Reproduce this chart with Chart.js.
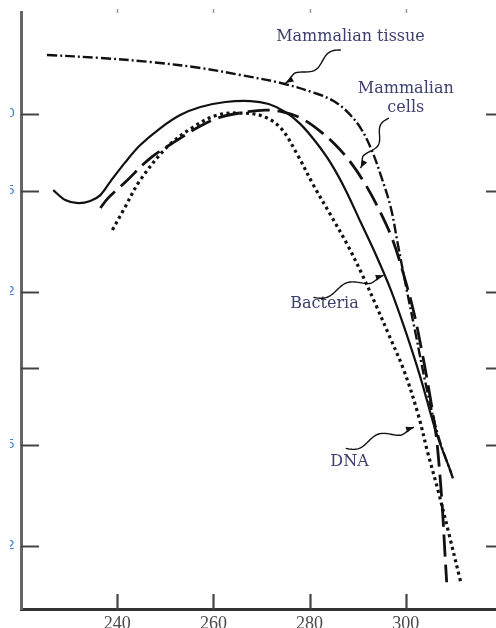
<!DOCTYPE html>
<html>
<head>
<meta charset="utf-8">
<script src="https://cdn.jsdelivr.net/npm/chart.js@4.4.0/dist/chart.umd.min.js"></script>
<style>
  html, body { margin: 0; padding: 0; background: #fff; }
  #wrap { position: relative; width: 496px; height: 628px; overflow: hidden; background: #fff; }
  #plot { position: absolute; left: -30px; top: -10px; }
  /* the scan is cut just left of the tick labels */
  #cut { position: absolute; left: 0; top: 0; width: 10px; height: 628px; background: #fff; }
</style>
</head>
<body>
<div id="wrap">
  <canvas id="plot" width="560" height="650"></canvas>
  <div id="cut"></div>
</div>
<script>
// Wavelength (nm) and relative value
const tissueX = [225.4, 236.5, 246.9, 257.3, 265.6, 274.0, 281.7, 285.0, 287.9, 290.6, 292.9, 295.0, 296.9, 298.3, 300.0, 302.1, 304.2, 306.7, 309.8]
const tissueY = [1.708, 1.662, 1.602, 1.518, 1.424, 1.325, 1.199, 1.125, 1.018, 0.881, 0.722, 0.560, 0.427, 0.311, 0.212, 0.135, 0.0857, 0.0545, 0.0369]

const cellsX = [236.5, 238.1, 241.7, 246.9, 252.5, 257.3, 261.5, 266.7, 270.8, 274.6, 278.1, 281.9, 285.4, 288.5, 291.7, 294.8, 297.3, 299.6, 301.7, 303.5, 305.0, 306.3, 307.1, 307.7, 308.1, 308.5]
const cellsY = [0.427, 0.467, 0.540, 0.671, 0.790, 0.897, 0.973, 1.018, 1.037, 1.018, 0.965, 0.865, 0.755, 0.647, 0.525, 0.408, 0.319, 0.232, 0.165, 0.1125, 0.0783, 0.0545, 0.0379, 0.0264, 0.0192, 0.0144]

const bacteriaX = [226.7, 229.2, 231.9, 234.4, 236.5, 238.5, 241.7, 244.8, 249.0, 253.1, 257.3, 262.5, 267.7, 271.5, 275.0, 278.1, 281.3, 284.4, 287.5, 290.6, 293.8, 296.9, 300.0, 303.1, 306.3, 309.4]
const bacteriaY = [0.502, 0.459, 0.446, 0.455, 0.480, 0.540, 0.647, 0.755, 0.881, 0.991, 1.066, 1.115, 1.125, 1.095, 1.018, 0.913, 0.776, 0.641, 0.502, 0.376, 0.279, 0.203, 0.139, 0.0913, 0.056, 0.039]

const dnaX = [239.0, 241.3, 244.8, 250.4, 255.8, 260.8, 265.6, 270.2, 274.0, 277.5, 280.8, 284.4, 287.9, 291.0, 293.8, 296.5, 299.6, 302.5, 304.6, 306.7, 308.8, 311.5]
const dnaY = [0.350, 0.419, 0.550, 0.742, 0.889, 0.991, 1.009, 0.982, 0.881, 0.690, 0.525, 0.400, 0.305, 0.232, 0.177, 0.135, 0.0982, 0.0665, 0.0463, 0.0331, 0.0230, 0.0142]

const xTicks = [240, 260, 280, 300]
const yTicks = [1.0, 0.5, 0.2, 0.1, 0.05, 0.02]
const yTickLabels = ["1.0", "0.5", "0.2", "", "0.05", "0.02"]

// labels and their pointer arrows, in data units
const noteText = ["Mammalian tissue", "Mammalian", "cells", "Bacteria", "DNA"]
const noteX = [288.5, 300.0, 300.0, 283.1, 288.3]
const noteY = [2.01, 1.254, 1.056, 0.1795, 0.0428]

const arrowTailX = [286.5, 296.5, 280.8, 287.5]
const arrowTailY = [1.786, 0.964, 0.190, 0.0484]
const arrowHeadX = [275.0, 290.6, 295.4, 301.7]
const arrowHeadY = [1.325, 0.613, 0.232, 0.0586]

const toPoints = (xs, ys) => xs.map((x, i) => ({ x: x, y: ys[i] }))

// inward tick marks on all four sides
const tickMarks = {
  id: "tickMarks",
  afterDraw(chart) {
    const { ctx, chartArea, scales } = chart
    ctx.save()
    ctx.strokeStyle = "#444"
    ctx.lineWidth = 2.2
    yTicks.forEach((v) => {
      const py = Math.round(scales.y.getPixelForValue(v)) + 0.5
      ctx.beginPath()
      ctx.moveTo(chartArea.left, py)
      ctx.lineTo(chartArea.left + 18, py)
      ctx.moveTo(chartArea.right - 16, py)
      ctx.lineTo(chartArea.right, py)
      ctx.stroke()
    })
    xTicks.forEach((v) => {
      const px = Math.round(scales.x.getPixelForValue(v)) + 0.5
      ctx.beginPath()
      ctx.moveTo(px, chartArea.bottom)
      ctx.lineTo(px, chartArea.bottom - 15)
      ctx.stroke()
    })
    ctx.strokeStyle = "#999"
    ctx.lineWidth = 1.5
    xTicks.forEach((v) => {
      const px = Math.round(scales.x.getPixelForValue(v)) + 0.5
      ctx.beginPath()
      ctx.moveTo(px, chartArea.top - 3)
      ctx.lineTo(px, chartArea.top + 1)
      ctx.stroke()
    })
    ctx.restore()
  },
}

// curve names with hand drawn wavy pointers
const notes = {
  id: "notes",
  afterDatasetsDraw(chart) {
    const { ctx, scales } = chart
    ctx.save()
    ctx.fillStyle = "#3c3f6e"
    ctx.font = '16px "DejaVu Serif"'
    ctx.textAlign = "center"
    ctx.textBaseline = "middle"
    noteText.forEach((t, i) => {
      ctx.fillText(t, scales.x.getPixelForValue(noteX[i]), scales.y.getPixelForValue(noteY[i]))
    })

    ctx.strokeStyle = "#111"
    ctx.fillStyle = "#111"
    ctx.lineWidth = 1.4
    arrowTailX.forEach((_, i) => {
      const tx = scales.x.getPixelForValue(arrowTailX[i])
      const ty = scales.y.getPixelForValue(arrowTailY[i])
      const hx = scales.x.getPixelForValue(arrowHeadX[i])
      const hy = scales.y.getPixelForValue(arrowHeadY[i])
      const dx = hx - tx
      const dy = hy - ty
      const len = Math.hypot(dx, dy)
      const ux = dx / len
      const uy = dy / len
      ctx.beginPath()
      for (let k = 0; k <= 50; k++) {
        const t = k / 50
        const env = t < 0.8 ? 1 : (1 - t) / 0.2
        const off = 4 * Math.sin(t * Math.PI * 3) * env
        const px = tx + dx * t - uy * off
        const py = ty + dy * t + ux * off
        if (k === 0) ctx.moveTo(px, py)
        else ctx.lineTo(px, py)
      }
      ctx.stroke()
      ctx.beginPath()
      ctx.moveTo(hx, hy)
      ctx.lineTo(hx - ux * 8 - uy * 3, hy - uy * 8 + ux * 3)
      ctx.lineTo(hx - ux * 8 + uy * 3, hy - uy * 8 - ux * 3)
      ctx.closePath()
      ctx.fill()
    })
    ctx.restore()
  },
}

const ink = "#111"
const ctx = document.getElementById("plot").getContext("2d")
const Chart = window.Chart
new Chart(ctx, {
  type: "scatter",
  data: {
    datasets: [
      {
        label: "Mammalian tissue",
        data: toPoints(tissueX, tissueY),
        borderColor: ink,
        backgroundColor: ink,
        borderDash: [10, 3, 2, 3],
        borderWidth: 2.4,
      },
      {
        label: "Mammalian cells",
        data: toPoints(cellsX, cellsY),
        borderColor: ink,
        backgroundColor: ink,
        borderDash: [22, 8],
        borderWidth: 2.8,
      },
      {
        label: "Bacteria",
        data: toPoints(bacteriaX, bacteriaY),
        borderColor: ink,
        backgroundColor: ink,
        borderWidth: 2.2,
      },
      {
        label: "DNA",
        data: toPoints(dnaX, dnaY),
        borderColor: ink,
        backgroundColor: ink,
        borderDash: [3, 3.5],
        borderWidth: 3.2,
      },
    ],
  },
  options: {
    responsive: false,
    animation: false,
    layout: { padding: { left: 0, right: 28, top: 22, bottom: 0 } },
    datasets: {
      scatter: {
        showLine: true,
        fill: false,
        pointRadius: 0,
        tension: 0.35,
      },
    },
    plugins: {
      legend: { display: false },
      tooltip: { enabled: false },
    },
    scales: {
      x: {
        type: "linear",
        min: 220,
        max: 320,
        grid: { display: false, drawTicks: false },
        border: { display: true, color: "#333", width: 3 },
        afterBuildTicks: (s) => {
          s.ticks = xTicks.map((v) => ({ value: v }))
        },
        afterFit: (s) => {
          s.height = 31
        },
        ticks: {
          autoSkip: false,
          maxRotation: 0,
          padding: 4,
          color: "#4a4a4a",
          font: { family: "Liberation Serif", size: 18 },
        },
      },
      y: {
        type: "logarithmic",
        min: 0.0113,
        max: 2.52,
        grid: { display: false, drawTicks: false },
        border: { display: true, color: "#666", width: 3 },
        afterBuildTicks: (s) => {
          s.ticks = yTicks.map((v) => ({ value: v }))
        },
        afterFit: (s) => {
          s.width = 51
        },
        ticks: {
          autoSkip: false,
          padding: 6,
          color: "#3d7fd6",
          font: { family: "DejaVu Sans", size: 13 },
          callback: (v, i) => yTickLabels[i],
        },
      },
    },
  },
  plugins: [tickMarks, notes],
})
</script>
</body>
</html>
